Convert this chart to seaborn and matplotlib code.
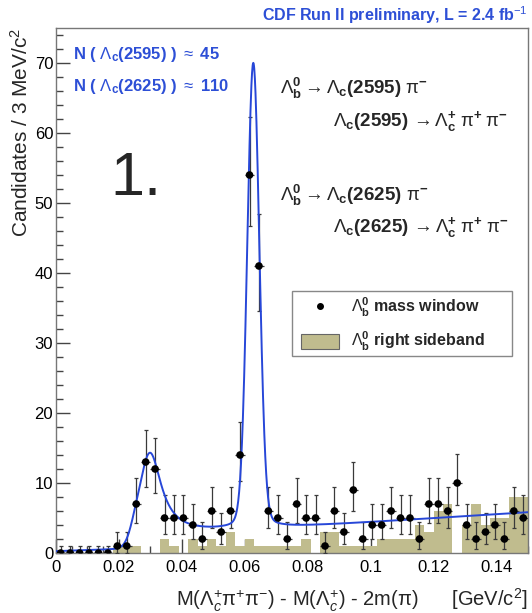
import numpy as np
import pandas as pd
import matplotlib
matplotlib.use("Agg")
import matplotlib.pyplot as plt
import seaborn as sns
from matplotlib.lines import Line2D
from matplotlib.patches import Patch, Rectangle
from matplotlib.ticker import MultipleLocator, FuncFormatter

# 3 MeV/c^2 bins, 0 .. 0.15 GeV/c^2
bin_edges = np.linspace(0, 0.15, 51)
bin_centers = 0.5 * (bin_edges[:-1] + bin_edges[1:])

# Lambda_b mass window (points)
counts = [0, 0, 0, 0, 0, 0, 1, 1, 7, 13,
          12, 5, 5, 5, 4, 2, 6, 3, 6, 14,
          54, 41, 6, 5, 2, 7, 5, 5, 1, 6,
          3, 9, 2, 4, 4, 6, 5, 5, 2, 7,
          7, 6, 10, 4, 2, 3, 4, 2, 6, 5]

# Lambda_b right sideband (filled histogram)
sideband = [0, 0, 0, 0, 0, 0, 1, 1, 1, 0,
            0, 2, 1, 0, 2, 1, 2, 1, 3, 1,
            2, 1, 1, 1, 1, 1, 2, 0, 3, 3,
            1, 1, 1, 1, 2, 2, 2, 2, 4, 3,
            6, 7, 0, 4, 7, 4, 5, 5, 8, 8]

# fit parameters
low_level, low_slope = 0.25, 15.0
thr_pos, thr_width = 0.0235, 0.0012
bkg_a, bkg_b = 1.5, 28.7
m1, h1, g1 = 0.0298, 12.0, 0.0045        # Lc(2595)
m2, h2, s2 = 0.0627, 61.5, 0.0019        # Lc(2625) core
h2_tail, g2_tail = 5.0, 0.003            # Lc(2625) tail

TAN = "#C0BC8E"
BLUE = "#2747D8"
TXT_BLUE = "#2D4FD6"


def fit_curve(x):
    thr = 1.0 / (1.0 + np.exp(-(x - thr_pos) / thr_width))
    bw1 = h1 / (1.0 + ((x - m1) / g1) ** 2)
    core2 = h2 * np.exp(-0.5 * ((x - m2) / s2) ** 2)
    tail2 = h2_tail / (1.0 + ((x - m2) / g2_tail) ** 2)
    return (1 - thr) * (low_level + low_slope * x) + thr * (bkg_a + bkg_b * x + bw1) + core2 + tail2


df = pd.DataFrame({"mass": bin_centers, "window": counts, "sideband": sideband})

sns.set_theme(style="ticks")
plt.rcParams["font.family"] = ["Liberation Sans", "DejaVu Sans"]
plt.rcParams.update({
    "mathtext.fontset": "custom",
    "mathtext.rm": "Liberation Sans",
    "mathtext.it": "Liberation Sans:italic",
    "mathtext.bf": "Liberation Sans:bold",
})

W, H = 532, 613
fig = plt.figure(figsize=(W / 100, H / 100), dpi=100)
ax = fig.add_axes([56 / W, 60 / H, 472 / W, 525 / H])

sns.histplot(data=df, x="mass", weights="sideband", bins=list(bin_edges), color=TAN,
             alpha=1, linewidth=0, ax=ax, zorder=1)

n = df["window"].to_numpy(dtype=float)
err_hi = np.sqrt(n) + 1.0
err_lo = np.sqrt(n)
ax.errorbar(df["mass"], n, yerr=[err_lo, err_hi], fmt="none", ecolor="#3a3a3a",
            elinewidth=0.9, capsize=1.5, capthick=0.9, zorder=3)
ax.errorbar(df["mass"], n, xerr=0.0015, fmt="none", ecolor="#3a3a3a",
            elinewidth=0.9, zorder=3)

xs = np.linspace(0, 0.15, 1501)
sns.lineplot(x=xs, y=fit_curve(xs), color=BLUE, linewidth=1.4, ax=ax, zorder=4)
sns.scatterplot(data=df, x="mass", y="window", color="black", s=30, edgecolor="none",
                ax=ax, zorder=5)

ax.set_xlim(0, 0.15)
ax.set_ylim(0, 75)
ax.xaxis.set_major_locator(MultipleLocator(0.02))
ax.xaxis.set_minor_locator(MultipleLocator(0.005))
ax.yaxis.set_major_locator(MultipleLocator(10))
ax.yaxis.set_minor_locator(MultipleLocator(2))
ax.xaxis.set_major_formatter(FuncFormatter(lambda v, p: f"{v:g}"))
ax.tick_params(which="both", direction="in", top=False, right=False,
               color="#444444", labelcolor="black", labelsize=12, width=1)
ax.tick_params(which="major", length=10)
ax.tick_params(which="minor", length=5)
ax.tick_params(axis="x", pad=5)
ax.tick_params(axis="y", pad=2)
for sp in ax.spines.values():
    sp.set_color("#777777")
    sp.set_linewidth(1)

LAM = r"\mathrm{\Lambda}"
PI = r"\mathrm{\pi}"

ax.set_xlabel(rf"M(${LAM}_c^{{+}}{PI}^{{+}}{PI}^{{-}}$) - M(${LAM}_c^{{+}}$) - 2m(${PI}$)      [GeV/c$^2$]",
              loc="right", fontsize=14.5)
ax.xaxis.set_label_coords(1.0, -(600 - 553) / 525)
ax.xaxis.label.set_va("center")
ax.set_ylabel(r"Candidates / 3 MeV/c$^2$", loc="top", fontsize=15)
ax.yaxis.set_label_coords(-(56 - 21) / 472, 1.0)
ax.yaxis.label.set_va("center")


def fx(px):
    return px / W


def fy(py):
    return 1 - py / H


LC = rf"{LAM}_\mathbf{{c}}"
LB = rf"{LAM}_\mathbf{{b}}^\mathbf{{0}}"
LCP = rf"{LAM}_\mathbf{{c}}^\mathbf{{+}}"
PIP = rf"{PI}^\mathbf{{+}}"
PIM = rf"{PI}^\mathbf{{-}}"

fig.text(fx(528), fy(15), r"CDF Run II preliminary, L = 2.4 fb$^{-1}$", color=TXT_BLUE,
         fontsize=11.5, fontweight="bold", ha="right", va="center")
fig.text(fx(73), fy(55), rf"N ( ${LC}$(2595) ) $\approx$ 45", color=TXT_BLUE,
         fontsize=12, fontweight="bold", ha="left", va="center")
fig.text(fx(73), fy(87), rf"N ( ${LC}$(2625) ) $\approx$ 110", color=TXT_BLUE,
         fontsize=12, fontweight="bold", ha="left", va="center")
fig.text(fx(110), fy(195), "1.", fontsize=44, ha="left", va="baseline")

fig.text(fx(280), fy(88), rf"${LB} \rightarrow {LC}$(2595) ${PIM}$",
         fontsize=13.5, fontweight="bold", ha="left", va="center")
fig.text(fx(333), fy(122), rf"${LC}$(2595)$\,\rightarrow {LCP}\;{PIP}\;{PIM}$",
         fontsize=13.5, fontweight="bold", ha="left", va="center")
fig.text(fx(280), fy(195), rf"${LB} \rightarrow {LC}$(2625) ${PIM}$",
         fontsize=13.5, fontweight="bold", ha="left", va="center")
fig.text(fx(333), fy(227), rf"${LC}$(2625)$\,\rightarrow {LCP}\;{PIP}\;{PIM}$",
         fontsize=13.5, fontweight="bold", ha="left", va="center")

# legend box (ROOT-style, fixed size) and its entries
ax.add_patch(Rectangle(((292 - 56) / 472, (553 - 356) / 525), 220 / 472, 65 / 525,
                       transform=ax.transAxes, facecolor="white", edgecolor="#888888",
                       linewidth=1, zorder=6))
handles = [Line2D([], [], marker="o", ls="none", color="black", markersize=4),
           Patch(facecolor=TAN, edgecolor="#666666", linewidth=0.8)]
labels = [rf"${LB}$ mass window", rf"${LB}$ right sideband"]
leg = ax.legend(handles, labels, loc="center left",
                bbox_to_anchor=((301 - 56) / 472, (553 - 324.5) / 525),
                borderaxespad=0, borderpad=0, prop={"weight": "bold", "size": 11.5},
                frameon=False, handlelength=2.4, handleheight=1.1,
                handletextpad=0.75, labelspacing=0.7)
leg.set_zorder(7)

fig.savefig("out.png", dpi=100)
